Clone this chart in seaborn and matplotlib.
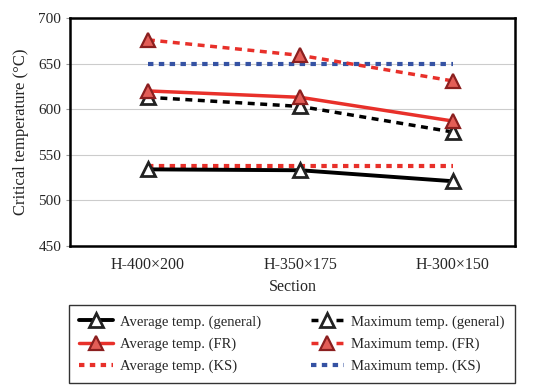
import pandas as pd
import matplotlib
matplotlib.use("Agg")
import matplotlib.pyplot as plt
import seaborn as sns

# dados
secoes = ["H-400×200", "H-350×175", "H-300×150"]
media_geral = [534, 533, 521]
max_geral = [613, 603, 575]
media_fr = [620, 613, 587]
max_fr = [676, 659, 631]
media_ks = [538, 538, 538]
max_ks = [649, 649, 649]

sns.set_style("white")
plt.rcParams['font.family'] = ['Liberation Serif', 'DejaVu Serif']

fig = plt.figure(figsize=(5.36, 3.91), dpi=100)
ax = fig.add_axes([0.131, 0.371, 0.830, 0.583])

x = list(range(len(secoes)))
vermelho = "#e8302a"
azul = "#3552a3"

series = [
    ("Average temp. (general)", media_geral, dict(color="black", lw=2.8, ls="-", marker="^", ms=9.5,
                                                 mfc="white", mec="#222222", mew=2)),
    ("Maximum temp. (general)", max_geral, dict(color="black", lw=2.5, ls=(0, (2, 1.6)), marker="^", ms=9.5,
                                                mfc="white", mec="#222222", mew=2)),
    ("Average temp. (FR)", media_fr, dict(color=vermelho, lw=2.5, ls="-", marker="^", ms=9.5,
                                          mfc="#e35d57", mec="#8b1f1f", mew=1.6)),
    ("Maximum temp. (FR)", max_fr, dict(color=vermelho, lw=2.5, ls=(0, (2, 1.6)), marker="^", ms=9.5,
                                        mfc="#e35d57", mec="#8b1f1f", mew=1.6)),
    ("Average temp. (KS)", media_ks, dict(color=vermelho, lw=3, ls=(0, (1.3, 1.3)))),
    ("Maximum temp. (KS)", max_ks, dict(color=azul, lw=3, ls=(0, (1.3, 1.3)))),
]

# desenha as séries em ordem (KS por baixo)
ordem = [5, 4, 1, 0, 3, 2]
handles = {}
for i in ordem:
    nome, valores, estilo = series[i]
    sns.lineplot(x=x, y=valores, ax=ax, label=nome, **estilo)
    handles[nome] = ax.get_lines()[-1]

ax.set_ylim(450, 700)
ax.set_yticks(range(450, 701, 50))
ax.set_xlim(-0.51, 2.41)
ax.set_xticks(x)
ax.set_xticklabels(secoes, fontsize=11.5)
ax.tick_params(axis="y", labelsize=11, length=3, left=True, color="#999999")
ax.tick_params(axis="x", length=0, pad=8)
ax.yaxis.grid(True, color="#cccccc", lw=0.8)
ax.set_axisbelow(True)
for s in ax.spines.values():
    s.set_color("black")
    s.set_linewidth(1.8)
ax.set_xlabel("Section", fontsize=11.5, labelpad=4)
ax.set_ylabel("Critical temperature (°C)", fontsize=12, labelpad=7)
ax.get_legend().remove()

ordem_legenda = ["Average temp. (general)", "Maximum temp. (general)",
                 "Average temp. (FR)", "Maximum temp. (FR)",
                 "Average temp. (KS)", "Maximum temp. (KS)"]
# ncol=2 preenche por coluna, então reorganizar
col1 = ordem_legenda[0::2]
col2 = ordem_legenda[1::2]
labels = col1 + col2
leg = fig.legend([handles[n] for n in labels], labels, ncol=2,
                 loc="upper left", bbox_to_anchor=(0.129, 0.22, 0.832, 0.0),
                 mode="expand", fontsize=10.5, frameon=True, fancybox=False,
                 edgecolor="black", handlelength=2.3, handletextpad=0.5,
                 labelspacing=0.6, borderpad=0.7, columnspacing=1.0,
                 borderaxespad=0)
leg.get_frame().set_linewidth(1.0)

fig.savefig("out.png", dpi=100)
